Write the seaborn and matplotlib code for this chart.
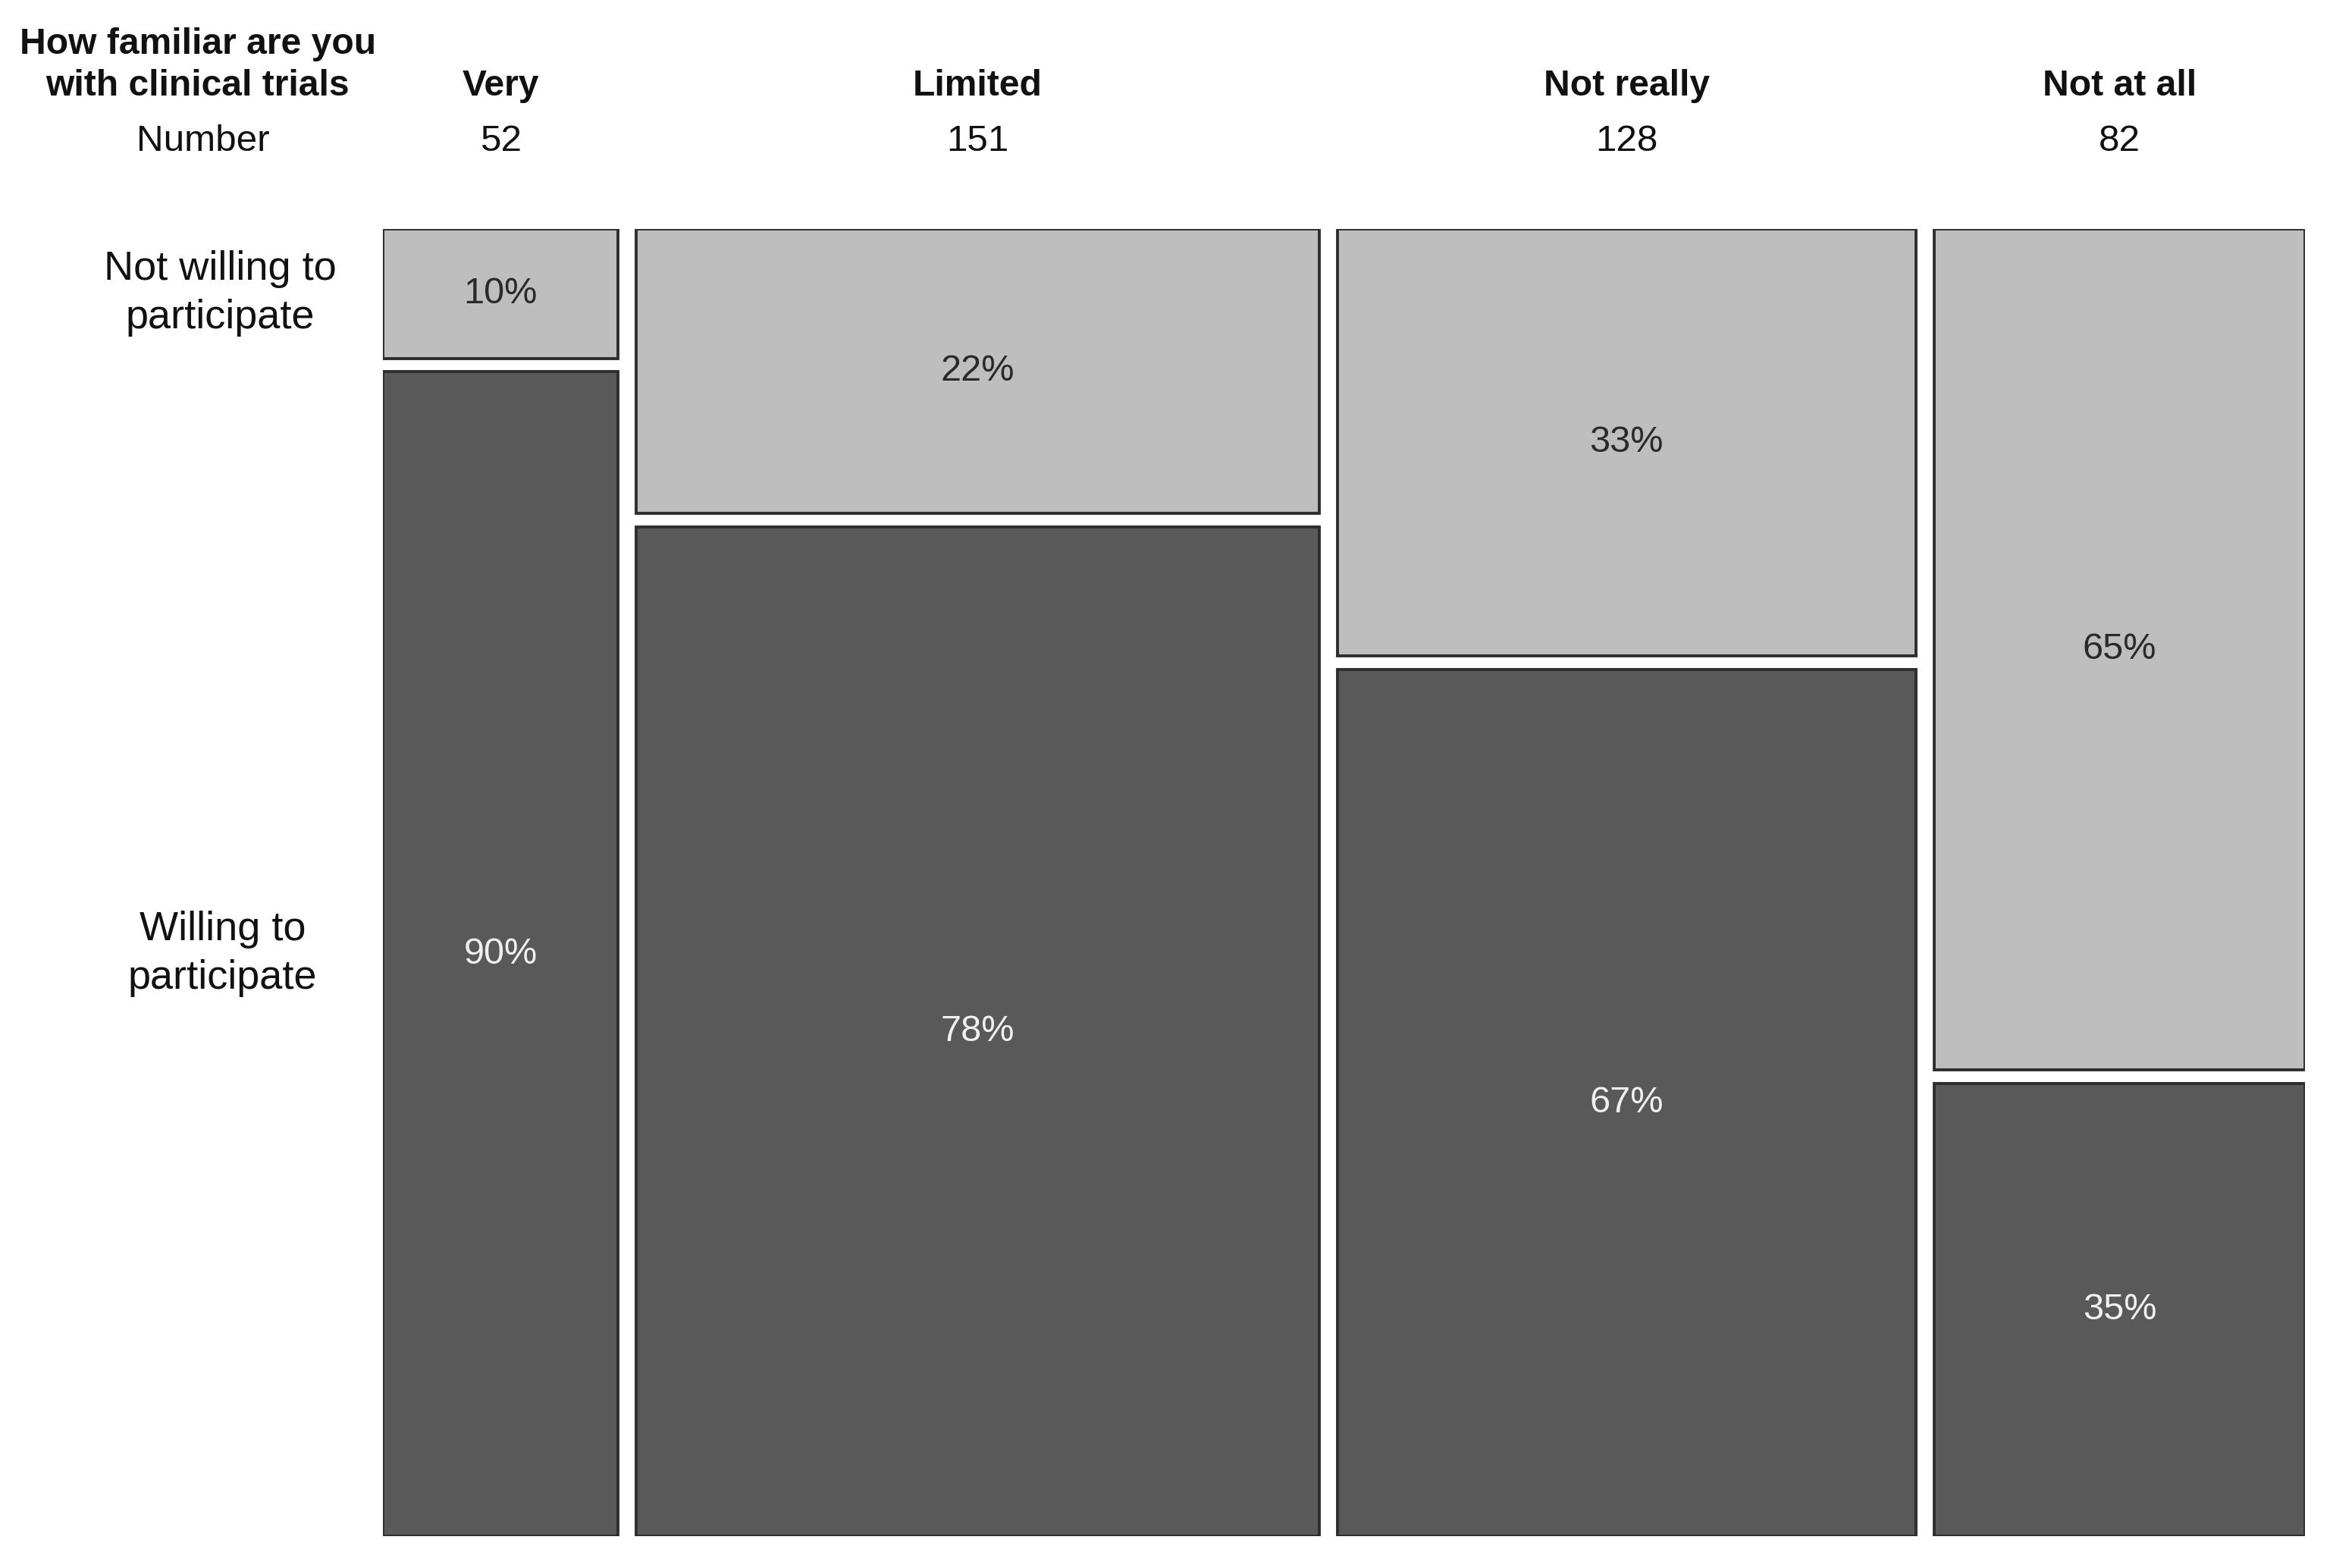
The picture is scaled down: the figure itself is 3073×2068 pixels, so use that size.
import numpy as np
import matplotlib.pyplot as plt
import matplotlib.transforms as mtransforms
import seaborn as sns

# data
categories = ['Very', 'Limited', 'Not really', 'Not at all']
counts = [52, 151, 128, 82]
willing_pct = [90, 78, 67, 35]
not_willing_pct = [10, 22, 33, 65]
row_labels = ['Not willing to\nparticipate', 'Willing to\nparticipate']

sns.set_theme(style='white')
plt.rcParams['font.family'] = ['Liberation Sans', 'DejaVu Sans']

light = '#bebebe'
dark = '#595959'
edge = '#2e2e2e'

fig = plt.figure(figsize=(3073 / 200, 2068 / 200), dpi=200)
ax = fig.add_axes([505 / 3073, 1 - 2026 / 2068, (3040 - 505) / 3073, (2026 - 302) / 2068])

gap_x = 4.0
gap_y = 0.0103
widths = np.array(counts, dtype=float)
lefts = np.concatenate([[0], np.cumsum(widths + gap_x)[:-1]])
centers = lefts + widths / 2
w = np.array(willing_pct) / 100
nw = np.array(not_willing_pct) / 100

ax.bar(lefts, w, width=widths, bottom=0, align='edge', color=dark, edgecolor=edge, linewidth=1.4)
ax.bar(lefts, nw, width=widths, bottom=w + gap_y, align='edge', color=light, edgecolor=edge, linewidth=1.4)

for c, a, b in zip(centers, w, nw):
    ax.text(c, a / 2, f'{int(round(a * 100))}%', ha='center', va='center', fontsize=17.5, color='#f0f0f0')
    ax.text(c, a + gap_y + b / 2, f'{int(round(b * 100))}%', ha='center', va='center', fontsize=17.5, color='#2a2a2a')

ax.set_xlim(0, lefts[-1] + widths[-1])
ax.set_ylim(0, 1 + gap_y)
ax.axis('off')

# column headers
tr = mtransforms.blended_transform_factory(ax.transData, fig.transFigure)
for c, cat, n in zip(centers, categories, counts):
    ax.text(c, 0.945, cat, transform=tr, ha='center', va='center', fontsize=17.3, fontweight='bold', color='#111111', clip_on=False)
    ax.text(c, 0.910, str(n), transform=tr, ha='center', va='center', fontsize=17.8, color='#111111', clip_on=False)

fig.text(0.0849, 0.9716, 'How familiar are you', ha='center', va='center', fontsize=17.3, fontweight='bold', color='#111111')
fig.text(0.0849, 0.945, 'with clinical trials', ha='center', va='center', fontsize=17.3, fontweight='bold', color='#111111')
fig.text(0.0873, 0.910, 'Number', ha='center', va='center', fontsize=17.8, color='#111111')

# row labels aligned with first column
tr2 = mtransforms.blended_transform_factory(fig.transFigure, ax.transData)
ax.text(0.0944, w[0] + gap_y + nw[0] / 2, row_labels[0], transform=tr2, ha='center', va='center',
        fontsize=19.5, color='#111111', linespacing=1.35, clip_on=False)
ax.text(0.0955, w[0] / 2, row_labels[1], transform=tr2, ha='center', va='center',
        fontsize=19.5, color='#111111', linespacing=1.35, clip_on=False)

fig.savefig('out.png', dpi=200, facecolor='white')
